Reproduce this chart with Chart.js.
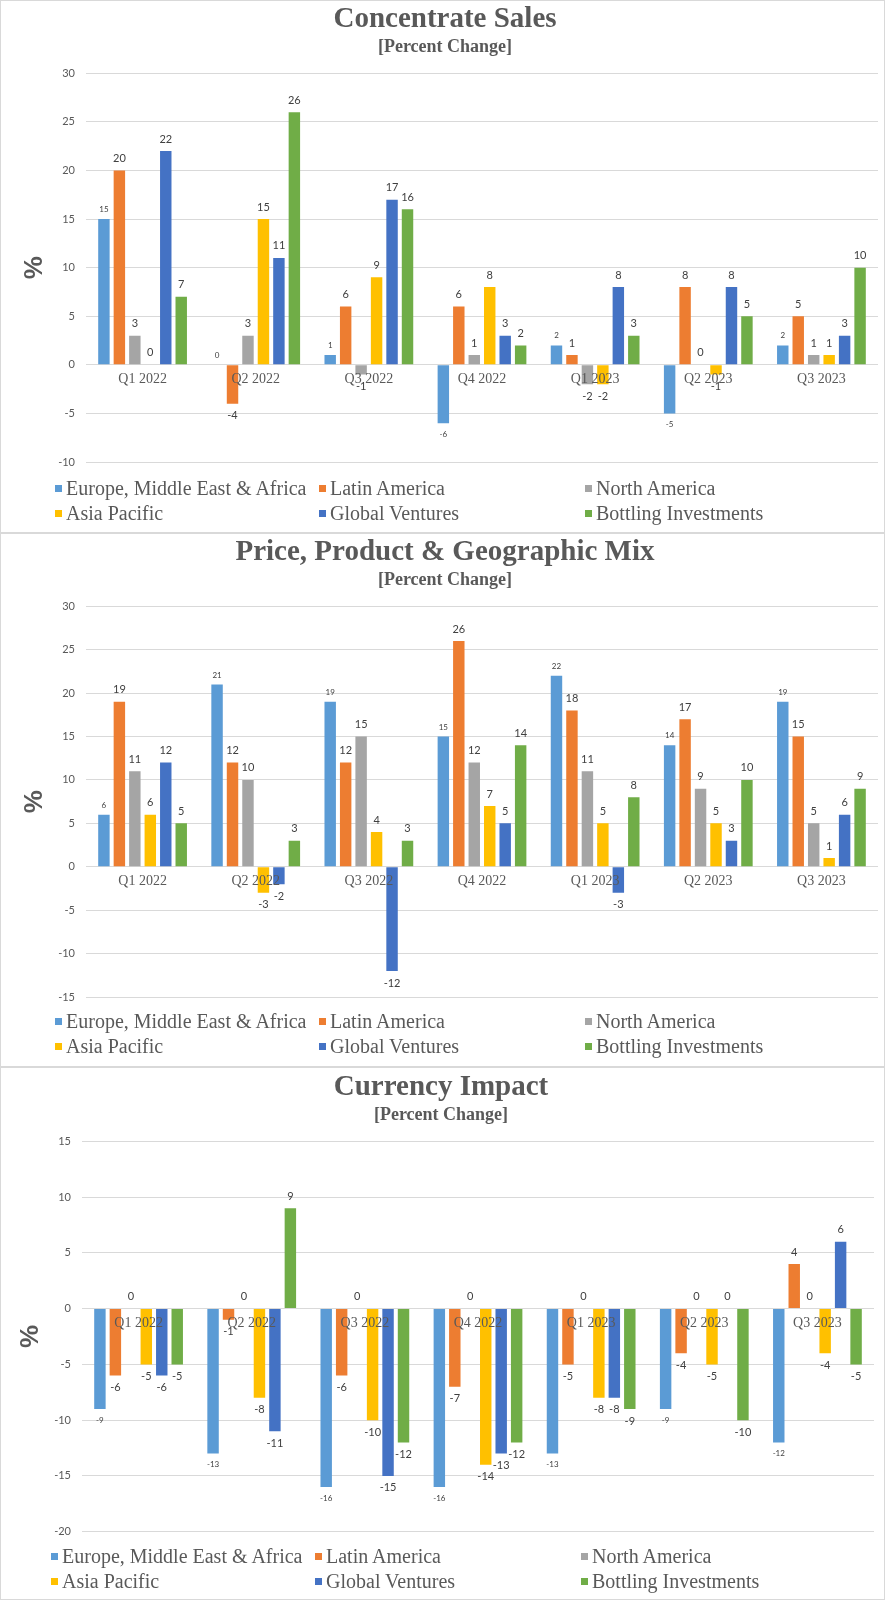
<!DOCTYPE html>
<html>
<head>
<meta charset="utf-8">
<title>Concentrate Sales / Price Mix / Currency Impact</title>
<script src="https://cdn.jsdelivr.net/npm/chart.js@4.4.1/dist/chart.umd.min.js"></script>
<style>
  body { margin: 0; background: #fff; width: 885px; }
  .panel { position: relative; width: 885px; box-sizing: border-box; border: 1px solid #d9d9d9; overflow: hidden; background: #fff; }
  .panel canvas { position: absolute; left: 0; top: 0; }
  .legend { position: absolute; left: 0; top: 0; width: 100%; height: 100%; pointer-events: none;
            font-family: "Liberation Serif", serif; font-size: 20px; line-height: 25px; color: #595959; }
  .legend .item { position: absolute; display: flex; align-items: center; white-space: nowrap; height: 25px; }
  .legend .item i { display: inline-block; width: 7px; height: 7px; margin-right: 4px; }
</style>
</head>
<body>
<div class="panel" id="p1" style="height:533px"><canvas id="c1" width="883" height="531"></canvas><div class="legend" id="l1"></div></div>
<div class="panel" id="p2" style="height:534px"><canvas id="c2" width="883" height="532"></canvas><div class="legend" id="l2"></div></div>
<div class="panel" id="p3" style="height:533px"><canvas id="c3" width="883" height="531"></canvas><div class="legend" id="l3"></div></div>

<script>
// =========================
// DATA
// =========================
const quarters = ["Q1 2022", "Q2 2022", "Q3 2022", "Q4 2022", "Q1 2023", "Q2 2023", "Q3 2023"];
const regions = ["Europe, Middle East & Africa", "Latin America", "North America",
                 "Asia Pacific", "Global Ventures", "Bottling Investments"];
const regionColors = ["#5B9BD5", "#ED7D31", "#A5A5A5", "#FFC000", "#4472C4", "#70AD47"];

// Concentrate Sales (percent change)
const concEMEA    = [15, 0, 1, -6, 2, -5, 2];
const concLatAm   = [20, -4, 6, 6, 1, 8, 5];
const concNorthAm = [3, 3, -1, 1, -2, 0, 1];
const concAsiaPac = [0, 15, 9, 8, -2, -1, 1];
const concGlobal  = [22, 11, 17, 3, 8, 8, 3];
const concBottling = [7, 26, 16, 2, 3, 5, 10];
const concTicks = { min: -10, max: 30, step: 5 };

// Price, Product & Geographic Mix (percent change)
const mixEMEA    = [6, 21, 19, 15, 22, 14, 19];
const mixLatAm   = [19, 12, 12, 26, 18, 17, 15];
const mixNorthAm = [11, 10, 15, 12, 11, 9, 5];
const mixAsiaPac = [6, -3, 4, 7, 5, 5, 1];
const mixGlobal  = [12, -2, -12, 5, -3, 3, 6];
const mixBottling = [5, 3, 3, 14, 8, 10, 9];
const mixTicks = { min: -15, max: 30, step: 5 };

// Currency Impact (percent change)
const fxEMEA    = [-9, -13, -16, -16, -13, -9, -12];
const fxLatAm   = [-6, -1, -6, -7, -5, -4, 4];
const fxNorthAm = [0, 0, 0, 0, 0, 0, 0];
const fxAsiaPac = [-5, -8, -10, -14, -8, -5, -4];
const fxGlobal  = [-6, -11, -15, -13, -8, 0, 6];
const fxBottling = [-5, 9, -12, -12, -9, -10, -5];
const fxTicks = { min: -20, max: 15, step: 5 };

// =========================
// STYLE
// =========================
const GREY_TEXT = "#595959";
const LABEL_TEXT = "#404040";
const GRID = "#d9d9d9";

Chart.defaults.font.family = "Lato";
Chart.defaults.animation = false;

// value labels above / below every bar (first series uses a smaller font)
const barLabels = {
  id: "barLabels",
  afterDatasetsDraw(chart) {
    const ctx = chart.ctx;
    ctx.save();
    ctx.textAlign = "center";
    ctx.textBaseline = "middle";
    ctx.fillStyle = LABEL_TEXT;
    chart.data.datasets.forEach((ds, di) => {
      const meta = chart.getDatasetMeta(di);
      const small = di === 0;
      ctx.font = (small ? 8 : 11) + "px Lato";
      meta.data.forEach((bar, i) => {
        const v = ds.data[i];
        const off = v < 0 ? (small ? 11 : 12) : -(small ? 9.5 : 12);
        ctx.fillText(String(v), bar.x, bar.y + off);
      });
    });
    ctx.restore();
  }
};

// =========================
// CHART BUILDER
// =========================
function crearGrafico(canvasId, titulo, series, ticks, pad) {
  const ctx = document.getElementById(canvasId).getContext("2d");
  return new Chart(ctx, {
    type: "bar",
    data: {
      labels: quarters,
      datasets: series.map((valores, k) => ({
        label: regions[k],
        data: valores,
        backgroundColor: regionColors[k],
        borderWidth: 0,
        categoryPercentage: 0.82,
        barPercentage: 0.74
      }))
    },
    options: {
      responsive: false,
      devicePixelRatio: 1,
      layout: { padding: { left: pad.left, right: pad.right, top: pad.top, bottom: pad.bottom } },
      plugins: {
        legend: { display: false },
        tooltip: { enabled: false },
        title: {
          display: true, text: titulo, color: GREY_TEXT,
          font: { family: "Liberation Serif", size: 29, weight: "bold", lineHeight: 1.2 },
          padding: { top: 1.5, bottom: 0 }
        },
        subtitle: {
          display: true, text: "[Percent Change]", color: GREY_TEXT,
          font: { family: "Liberation Serif", size: 18, weight: "bold", lineHeight: 1.1 },
          padding: { top: 0, bottom: pad.sub }
        }
      },
      scales: {
        x: {
          position: { y: 0 },
          grid: { display: false, drawTicks: false },
          border: { display: false },
          ticks: {
            color: GREY_TEXT, z: 1, padding: 6, maxRotation: 0, autoSkip: false,
            font: { family: "Liberation Serif", size: 14 }
          }
        },
        y: {
          min: ticks.min, max: ticks.max,
          ticks: { stepSize: ticks.step, color: GREY_TEXT, padding: 11, font: { family: "Lato", size: 11 } },
          grid: { color: GRID, drawTicks: false, lineWidth: 1 },
          border: { display: false },
          title: {
            display: true, text: "%", color: GREY_TEXT,
            font: { family: "Liberation Sans", size: 26, weight: "bold" },
            padding: { top: 7.4, bottom: 0 }
          },
          afterFit(scale) { scale.width = 74; }
        }
      }
    },
    plugins: [barLabels]
  });
}

// html legend, 3 columns x 2 rows like the original
function crearLeyenda(id, shiftX, shiftY) {
  const cont = document.getElementById(id);
  const cols = [54, 318, 584];
  const rows = [474.8, 500.2];
  regions.forEach((name, k) => {
    const it = document.createElement("div");
    it.className = "item";
    it.style.left = (cols[k % 3] + shiftX) + "px";
    it.style.top = (rows[Math.floor(k / 3)] + shiftY) + "px";
    const sq = document.createElement("i");
    sq.style.background = regionColors[k];
    it.appendChild(sq);
    it.appendChild(document.createTextNode(name));
    cont.appendChild(it);
  });
}

// =========================
// INIT
// =========================
crearGrafico("c1", "Concentrate Sales",
  [concEMEA, concLatAm, concNorthAm, concAsiaPac, concGlobal, concBottling],
  concTicks, { left: 11, right: 6, top: 0, bottom: 70, sub: 16.2 });
crearGrafico("c2", "Price, Product & Geographic Mix",
  [mixEMEA, mixLatAm, mixNorthAm, mixAsiaPac, mixGlobal, mixBottling],
  mixTicks, { left: 11, right: 6, top: 0, bottom: 69, sub: 16.2 });
crearGrafico("c3", "Currency Impact",
  [fxEMEA, fxLatAm, fxNorthAm, fxAsiaPac, fxGlobal, fxBottling],
  fxTicks, { left: 7, right: 10, top: 1, bottom: 67.3, sub: 16.2 });

crearLeyenda("l1", 0, 0);
crearLeyenda("l2", 0, 0);
crearLeyenda("l3", -4, 1);
</script>
</body>
</html>
